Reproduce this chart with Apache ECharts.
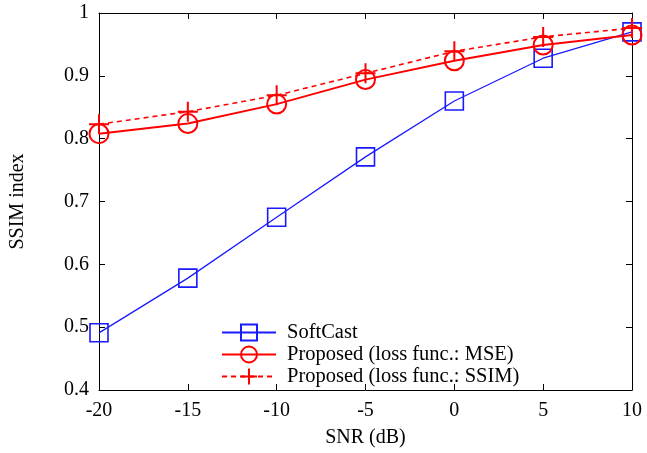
<!DOCTYPE html>
<html>
<head>
<meta charset="utf-8">
<script src="https://cdn.jsdelivr.net/npm/echarts@6/dist/echarts.min.js"></script>
<style>
  html, body { margin: 0; padding: 0; background: #fff; }
  #chart { width: 647px; height: 453px; }
</style>
</head>
<body>
<div id="chart"></div>
<script>
const SNR = [-20, -15, -10, -5, 0, 5, 10];
const SOFTCAST = [0.491, 0.578, 0.675, 0.771, 0.860, 0.928, 0.970];
const PROPOSED_MSE = [0.808, 0.824, 0.855, 0.894, 0.924, 0.949, 0.965];
const PROPOSED_SSIM = [0.823, 0.843, 0.869, 0.904, 0.939, 0.962, 0.976];

const FONT = 'Liberation Serif';
const PLUS = 'path://M0,-1L0,1M-1,0L1,0';
const DASH = [5, 4];

const pairs = (ys) => SNR.map((x, i) => [x, ys[i]]);

const axisCommon = () => ({
  axisLine: { show: true, onZero: false, lineStyle: { color: '#000', width: 1 } },
  axisTick: { show: true, inside: true, length: 6, lineStyle: { color: '#000' } },
  splitLine: { show: false },
});

const chart = echarts.init(document.getElementById('chart'));
chart.setOption({
  animation: false,
  textStyle: { fontFamily: FONT, color: '#000' },
  grid: { left: 99, right: 15, top: 13, bottom: 62 },
  xAxis: [
    Object.assign(axisCommon(), {
      type: 'value', min: -20, max: 10, interval: 5,
      name: 'SNR (dB)', nameLocation: 'middle', nameGap: 38,
      nameTextStyle: { fontFamily: FONT, fontSize: 20, color: '#000' },
      axisLabel: { fontFamily: FONT, fontSize: 20, color: '#000', margin: 11 },
    }),
    Object.assign(axisCommon(), {
      type: 'value', min: -20, max: 10, interval: 5, position: 'top',
      axisLabel: { show: false },
    }),
  ],
  yAxis: [
    Object.assign(axisCommon(), {
      type: 'value', min: 0.4, max: 1, interval: 0.1,
      name: 'SSIM index', nameLocation: 'middle', nameGap: 71,
      nameTextStyle: { fontFamily: FONT, fontSize: 20, color: '#000' },
      axisLabel: { fontFamily: FONT, fontSize: 20, color: '#000', margin: 10,
        formatter: (v) => (Math.abs(v - 1) < 1e-9 ? '1' : v.toFixed(1)) },
    }),
    Object.assign(axisCommon(), {
      type: 'value', min: 0.4, max: 1, interval: 0.1, position: 'right',
      axisLabel: { show: false },
    }),
  ],
  legend: {
    left: 221, top: 322, orient: 'vertical', padding: 0,
    itemWidth: 54, itemHeight: 20, itemGap: 1,
    textStyle: { fontFamily: FONT, fontSize: 20.5, lineHeight: 20, color: '#000', padding: [0, 0, 0, 6] },
    data: [
      { name: 'SoftCast' },
      { name: 'Proposed (loss func.: MSE)' },
      { name: 'Proposed (loss func.: SSIM)', lineStyle: { type: DASH } },
    ],
  },
  series: [
    {
      name: 'SoftCast', type: 'line', data: pairs(SOFTCAST),
      symbol: 'rect', symbolSize: 18,
      lineStyle: { color: '#1a1aff', width: 1.3 },
      itemStyle: { color: 'rgba(0,0,0,0)', borderColor: '#1a1aff', borderWidth: 1.6 },
    },
    {
      name: 'Proposed (loss func.: MSE)', type: 'line', data: pairs(PROPOSED_MSE),
      symbol: 'circle', symbolSize: 19,
      lineStyle: { color: '#ff0000', width: 2 },
      itemStyle: { color: 'rgba(0,0,0,0)', borderColor: '#ff0000', borderWidth: 2 },
    },
    {
      name: 'Proposed (loss func.: SSIM)', type: 'line', data: pairs(PROPOSED_SSIM),
      symbol: PLUS, symbolSize: 20,
      lineStyle: { color: '#ff0000', width: 1.6, type: DASH },
      itemStyle: { color: 'rgba(0,0,0,0)', borderColor: '#ff0000', borderWidth: 2 },
    },
  ],
});
</script>
</body>
</html>
